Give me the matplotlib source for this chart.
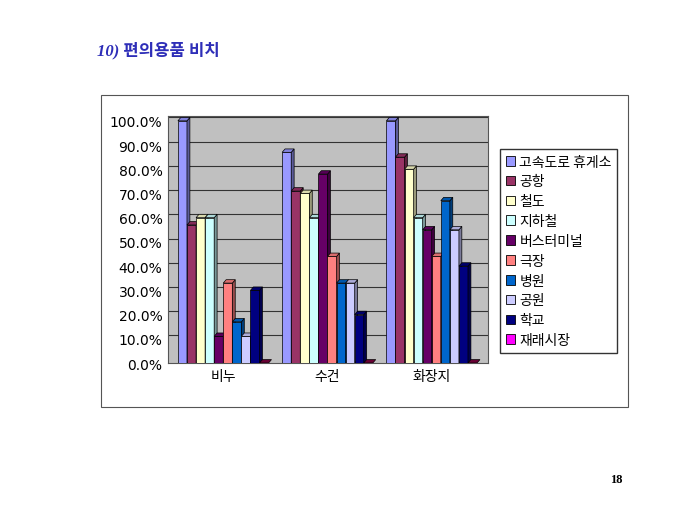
import numpy as np
import matplotlib
matplotlib.use("Agg")
import matplotlib.pyplot as plt
from matplotlib.patches import Polygon, Rectangle
import matplotlib.colors as mcolors

plt.rcParams["font.family"] = ["Noto Sans CJK KR", "DejaVu Sans"]

categories = ["비누", "수건", "화장지"]
places = ["고속도로 휴게소", "공항", "철도", "지하철", "버스터미널",
          "극장", "병원", "공원", "학교", "재래시장"]
colors = ["#9999FF", "#993366", "#FFFFCC", "#CCFFFF", "#660066",
          "#FF8080", "#0066CC", "#CCCCFF", "#000080", "#FF00FF"]
values = {
    "고속도로 휴게소": [100, 87, 100],
    "공항": [57, 71, 85],
    "철도": [60, 70, 80],
    "지하철": [60, 60, 60],
    "버스터미널": [11, 78, 55],
    "극장": [33, 44, 44],
    "병원": [17, 33, 67],
    "공원": [11, 33, 55],
    "학교": [30, 20, 40],
    "재래시장": [0, 0, 0],
}
yticks = np.arange(0, 101, 10)


def shade(c, f):
    r, g, b = mcolors.to_rgb(c)
    return (r * f, g * f, b * f)


fig = plt.figure(figsize=(6.8, 5.1), dpi=100)

# outer chart frame
fig.patches.append(Rectangle((101 / 680, 1 - 408 / 510), 527 / 680, 312 / 510,
                             transform=fig.transFigure, fill=False,
                             edgecolor="#555555", linewidth=0.8))

ax = fig.add_axes([168 / 680, 1 - 364 / 510, 320 / 680, 247 / 510])
ax.set_facecolor("#C0C0C0")
ax.set_xlim(-0.53, 2.54)
ax.set_ylim(0, 102)

w = 0.087
dx, dy = 0.028, 1.4
x = np.arange(len(categories))
for i, name in enumerate(places):
    xs = x - 5 * w + i * w
    for xi, v in zip(xs, values[name]):
        c = colors[i]
        if v > 0:
            ax.add_patch(Rectangle((xi, 0), w, v, facecolor=c,
                                   edgecolor="black", linewidth=0.5, zorder=3))
            side = [(xi + w, 0), (xi + w + dx, dy), (xi + w + dx, v + dy), (xi + w, v)]
            ax.add_patch(Polygon(side, facecolor=shade(c, 0.6),
                                 edgecolor="black", linewidth=0.5, zorder=3))
        top = [(xi, v), (xi + dx, v + dy), (xi + w + dx, v + dy), (xi + w, v)]
        ax.add_patch(Polygon(top, facecolor=shade(c, 0.85) if v > 0 else "#660033",
                             edgecolor="black", linewidth=0.5, zorder=3))

for t in yticks[1:]:
    ax.axhline(t + dy, color="#333333", linewidth=0.8, zorder=1)

ax.set_yticks(yticks)
ax.set_yticklabels([f"{t:.1f}%" for t in yticks], fontsize=10,
                   family=["DejaVu Sans"])
ax.set_xticks(x)
ax.set_xticklabels(categories, fontsize=10)
ax.tick_params(length=0, pad=4)
for s in ax.spines.values():
    s.set_color("#555555")
    s.set_linewidth(0.8)

handles = [Rectangle((0, 0), 1, 1, facecolor=c, edgecolor="black", linewidth=0.6)
           for c in colors]
fig.legend(handles, places, loc="upper left",
           bbox_to_anchor=(500 / 680, 1 - 150 / 510), fontsize=10,
           frameon=True, fancybox=False, edgecolor="black",
           handlelength=0.7, handleheight=0.7, handletextpad=0.3,
           labelspacing=0.42, borderpad=0.4, borderaxespad=0)

fig.text(97 / 680, 1 - 55 / 510, "10) 편의용품 비치", fontsize=12,
         fontweight="bold", color="#2E2EB8", style="italic",
         family=["Liberation Serif", "Noto Sans CJK KR"])
fig.text(616 / 680, 1 - 483 / 510, "18", fontsize=9, fontweight="bold",
         family=["Liberation Serif"], ha="center")

fig.savefig("out.png", dpi=100)
